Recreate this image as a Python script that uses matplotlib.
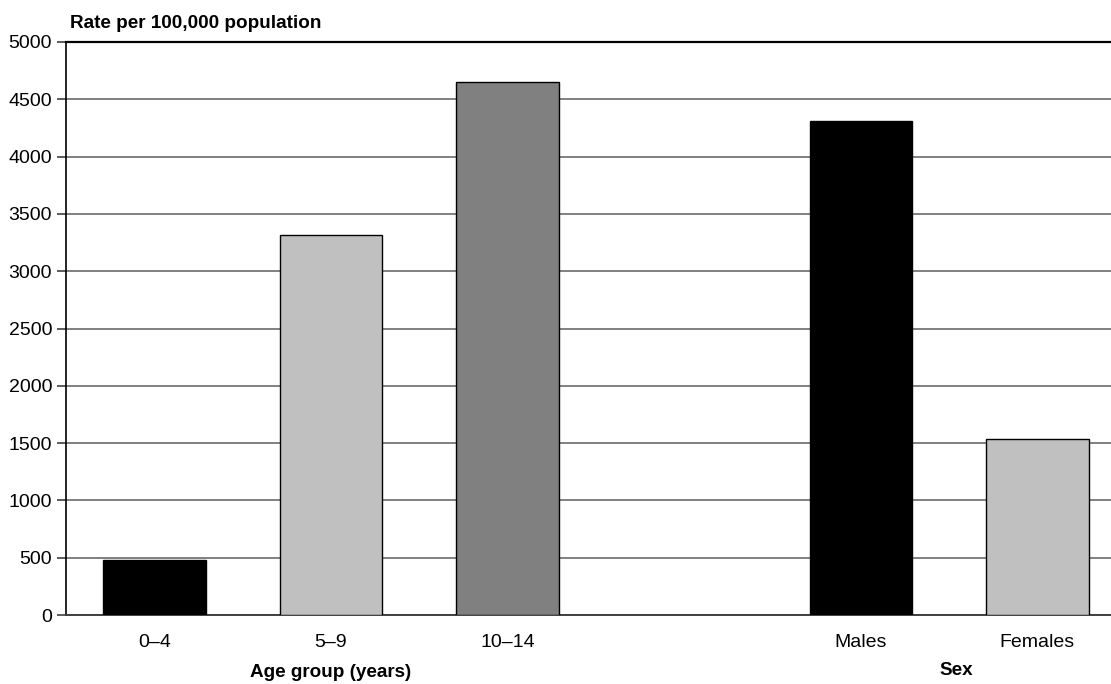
import matplotlib
matplotlib.use("Agg")
import matplotlib.pyplot as plt

categories = ["0–4", "5–9", "10–14", "", "Males", "Females"]
values = [480, 3320, 4650, None, 4310, 1540]
colors = ["#000000", "#c0c0c0", "#808080", None, "#000000", "#c0c0c0"]
yticks = [0, 500, 1000, 1500, 2000, 2500, 3000, 3500, 4000, 4500, 5000]

plt.rcParams['font.family'] = ['Liberation Sans', 'DejaVu Sans']

fig = plt.figure(figsize=(11.11, 6.84), dpi=100)
W, H = 1111, 684
ax = fig.add_axes([66 / W, 1 - 615 / H, (1111 - 66) / W, (615 - 42) / H])

xs = [i for i, v in enumerate(values) if v is not None]
vs = [v for v in values if v is not None]
cs = [c for c, v in zip(colors, values) if v is not None]
ax.bar(xs, vs, width=0.58, color=cs, edgecolor="black", linewidth=1.0, zorder=3)

ax.set_ylim(0, 5000)
ax.set_xlim(-0.5, 5.417)
ax.set_yticks(yticks)
ax.set_yticklabels([str(t) for t in yticks], fontsize=14)
ax.yaxis.grid(True, color="#808080", linewidth=1.4, zorder=0)
ax.set_axisbelow(True)

ax.set_xticks(range(len(categories)))
ax.set_xticklabels(categories, fontsize=14)
ax.tick_params(axis="x", length=0, pad=13.5)
ax.tick_params(axis="y", length=6.5, width=1.2, color="#404040", pad=3.5)

ax.spines["right"].set_visible(False)
ax.spines["top"].set_color("black")
ax.spines["top"].set_linewidth(1.6)
ax.spines["left"].set_color("black")
ax.spines["left"].set_linewidth(1.2)
ax.spines["bottom"].set_color("#404040")
ax.spines["bottom"].set_linewidth(1.4)

fig.text(70 / W, 1 - 23 / H, "Rate per 100,000 population", fontsize=13.6,
         fontweight="bold", ha="left", va="center")
ax.text(1, -0.100, "Age group (years)", transform=ax.get_xaxis_transform(),
        fontsize=13.6, fontweight="bold", ha="center", va="center")
ax.text(4.54, -0.096, "Sex", transform=ax.get_xaxis_transform(),
        fontsize=13.6, fontweight="bold", ha="center", va="center")

fig.savefig("out.png", dpi=100)
